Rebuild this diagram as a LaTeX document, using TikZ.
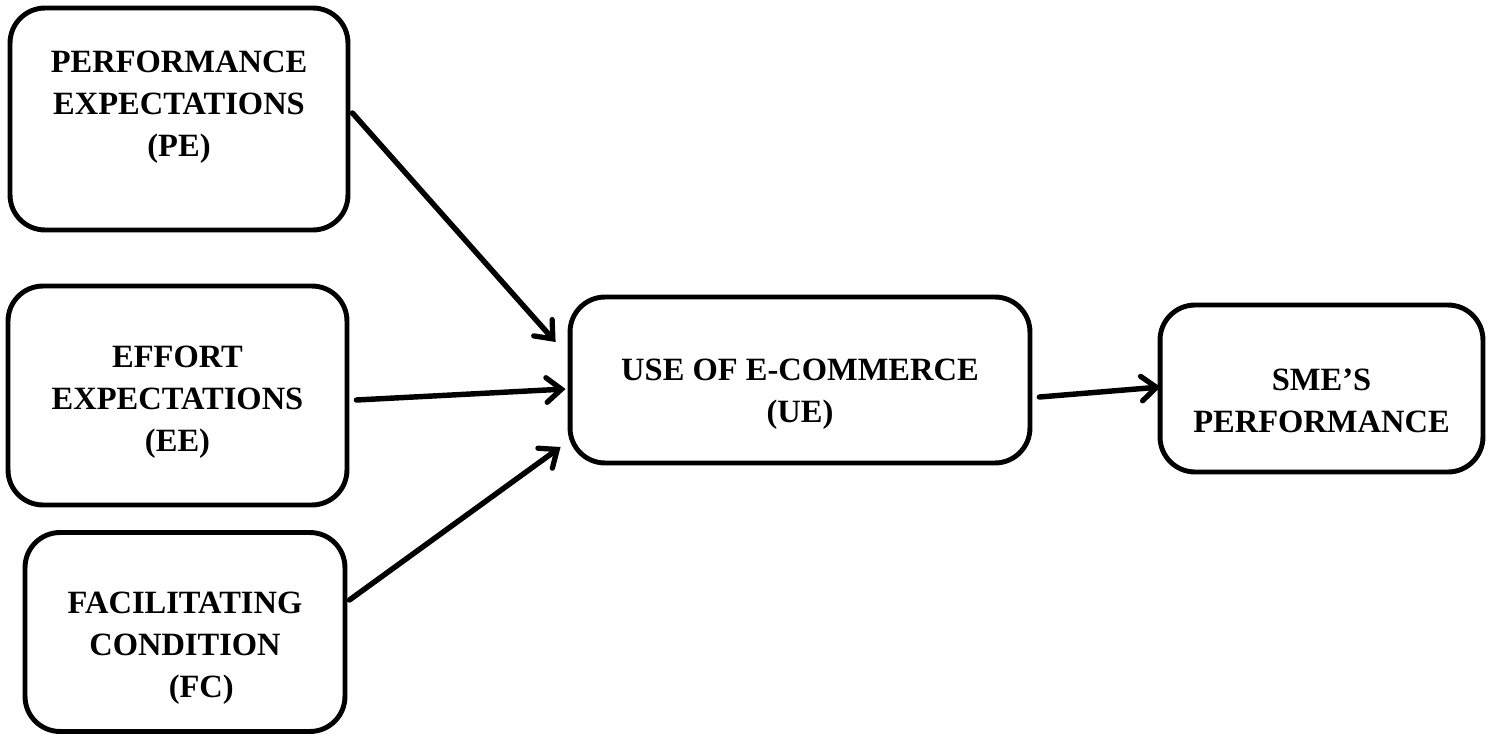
\documentclass[tikz,border=0pt]{standalone}
\usepackage{fontspec}
\setmainfont{Liberation Serif}
\usetikzlibrary{arrows.meta,calc}

\begin{document}
\begin{tikzpicture}[
    x=0.02cm, y=-0.02cm,
    box/.style={draw, line width=2.8pt, rounded corners=0.7cm, inner sep=0pt},
    label text/.style={align=center, inner sep=0pt, font=\fontsize{18.5}{24}\selectfont\bfseries},
    arrow/.style={-{Straight Barb[length=8.5pt, width=14pt, line width=3pt, line cap=round]}, line width=3.1pt, line cap=round}
]
    \useasboundingbox (0,0) rectangle (1491,737);

    % Boxes
    \node[box, minimum width=6.76cm, minimum height=4.44cm] (pe) at (179,119) {};
    \node[box, minimum width=6.78cm, minimum height=4.38cm] (ee) at (177.5,395.5) {};
    \node[box, minimum width=6.4cm, minimum height=3.98cm] (fc) at (185,632) {};
    \node[box, minimum width=9.2cm, minimum height=3.32cm] (ue) at (800,380) {};
    \node[box, minimum width=6.46cm, minimum height=3.34cm] (sme) at (1321.5,388.5) {};

    % Box texts
    \node[label text] (pe-text) at ($(pe)+(0,-12)$) {PERFORMANCE\\EXPECTATIONS\\(PE)};
    \node[label text] (ee-text) at ($(ee)+(0,7)$) {EFFORT\\EXPECTATIONS\\(EE)};
    \node[label text] (fc-text) at ($(fc)+(0,16)$) {FACILITATING\\CONDITION\\\hspace*{1em}(FC)};
    \node[label text] (ue-text) at ($(ue)+(0,14)$) {USE OF E-COMMERCE\\(UE)};
    \node[label text] (sme-text) at ($(sme)+(0,12)$) {SME’S\\PERFORMANCE};

    % Arrows
    \draw[arrow] ($(pe.east)+(2,-6)$) -- ($(ue.west)+(-12,-38)$);
    \draw[arrow] ($(ee.east)+(7,4.5)$) -- ($(ue.west)+(-2,9)$);
    \draw[arrow] ($(fc.east)+(2,-32)$) -- ($(ue.west)+(-7,67)$);
    \draw[arrow] ($(ue.east)+(7,17)$) -- ($(sme.west)+(3,-1.5)$);

\end{tikzpicture}
\end{document}
